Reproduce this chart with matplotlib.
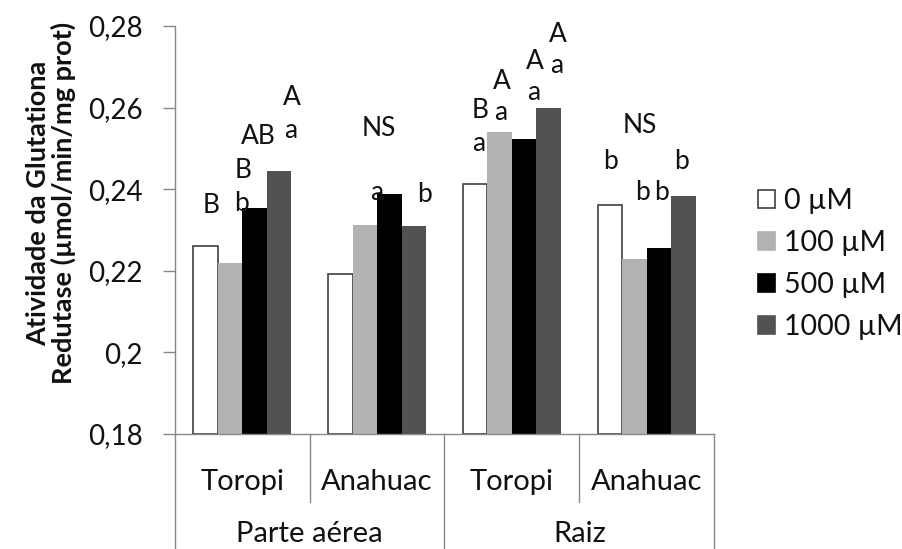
import matplotlib
matplotlib.use("Agg")
import matplotlib.pyplot as plt
import matplotlib.transforms as mtransforms
import numpy as np

plt.rcParams['font.family'] = ['Lato', 'DejaVu Sans']

categories = ["Toropi", "Anahuac", "Toropi", "Anahuac"]
groups = ["Parte aérea", "Raiz"]
series_labels = ["0 µM", "100 µM", "500 µM", "1000 µM"]
v0 = [0.2262, 0.2193, 0.2413, 0.2362]
v100 = [0.2219, 0.2313, 0.2540, 0.2230]
v500 = [0.2354, 0.2389, 0.2523, 0.2256]
v1000 = [0.2445, 0.2310, 0.2600, 0.2384]
series_values = [v0, v100, v500, v1000]
yticks = [0.18, 0.20, 0.22, 0.24, 0.26, 0.28]
ytick_labels = ["0,18", "0,2", "0,22", "0,24", "0,26", "0,28"]

# significance letters: (text, x in category units, y in data units)
letters = [
    ("B", -0.233, 0.2361), ("B", 0.005, 0.2447), ("b", -0.003, 0.2366),
    ("AB", 0.116, 0.2528), ("A", 0.368, 0.2624), ("a", 0.361, 0.2545),
    ("NS", 1.014, 0.2550), ("a", 1.000, 0.2391), ("b", 1.348, 0.2386),
    ("a", 1.756, 0.2513), ("B", 1.763, 0.2594), ("A", 1.927, 0.2663),
    ("a", 1.919, 0.2589), ("A", 2.172, 0.2712), ("a", 2.164, 0.2638),
    ("A", 2.342, 0.2778), ("a", 2.335, 0.2704),
    ("NS", 2.951, 0.2555), ("b", 2.733, 0.2467), ("b", 2.968, 0.2391),
    ("b", 3.108, 0.2391), ("b", 3.260, 0.2467),
]

colors = ["#FFFFFF", "#B2B2B2", "#000000", "#525252"]
edges = ["#404040", "#B2B2B2", "#000000", "#525252"]

fig = plt.figure(figsize=(9.02, 5.49), dpi=100)
ax = fig.add_axes([175/902, 1-434/549, (714-175)/902, (434-26)/549])

x = np.arange(len(categories))
w = 0.182
handles = []
for i, (vals, c, ec, lab) in enumerate(zip(series_values, colors, edges, series_labels)):
    b = ax.bar(x + (i - 1.5) * w, np.array(vals) - 0.18, bottom=0.18, width=w,
               color=c, edgecolor=ec, linewidth=1.2 if i == 0 else 0.0, label=lab, zorder=2)
    handles.append(b)

ax.set_xlim(-0.5, 3.5)
ax.set_ylim(0.18, 0.28)
ax.set_yticks(yticks)
ax.set_yticklabels(ytick_labels)
ax.tick_params(axis='y', direction='out', length=9, width=1, color='#888888',
               labelsize=20, pad=14, labelcolor='#111111')
ax.set_xticks([])
for s in ['top', 'right']:
    ax.spines[s].set_visible(False)
for s in ['left', 'bottom']:
    ax.spines[s].set_color('#888888')
    ax.spines[s].set_linewidth(1)

for t, xx, yy in letters:
    ax.text(xx, yy, t, ha='center', va='center', fontsize=19, color='#111111')

trans = mtransforms.blended_transform_factory(ax.transData, ax.transAxes)
# inner separators
for xs in [0.5, 2.5]:
    ax.plot([xs, xs], [0, -68/408], transform=trans, color='#888888', lw=1, clip_on=False)
# outer separators
for xs in [-0.5, 1.5, 3.5]:
    ax.plot([xs, xs], [0, -0.30], transform=trans, color='#888888', lw=1, clip_on=False)

for i, c in enumerate(categories):
    ax.text(i, -48/408, c, transform=trans, ha='center', va='center', fontsize=21, color='#111111')
for j, g in enumerate(groups):
    ax.text(0.5 + 2 * j, (434-547)/408, g, transform=trans, ha='center', va='bottom',
            fontsize=21, color='#111111')

fig.text(51/902, 1-203/549, "Atividade da Glutationa\nRedutase (µmol/min/mg prot)",
         rotation=90, ha='center', va='center', fontsize=19.5, fontweight='bold',
         color='#111111', linespacing=1.02)

leg = ax.legend(handles=handles, labels=series_labels, loc='center left',
                bbox_to_anchor=(758/902, 1-264/549), bbox_transform=fig.transFigure,
                frameon=False, fontsize=20.5, handlelength=0.6, handleheight=0.6,
                handletextpad=0.3, labelspacing=0.56, borderpad=0, borderaxespad=0)
for h in leg.legend_handles:
    h.set_linewidth(1.2)
leg.legend_handles[0].set_edgecolor('#404040')
for t in leg.get_texts():
    t.set_color('#111111')

fig.savefig("out.png", dpi=100)
